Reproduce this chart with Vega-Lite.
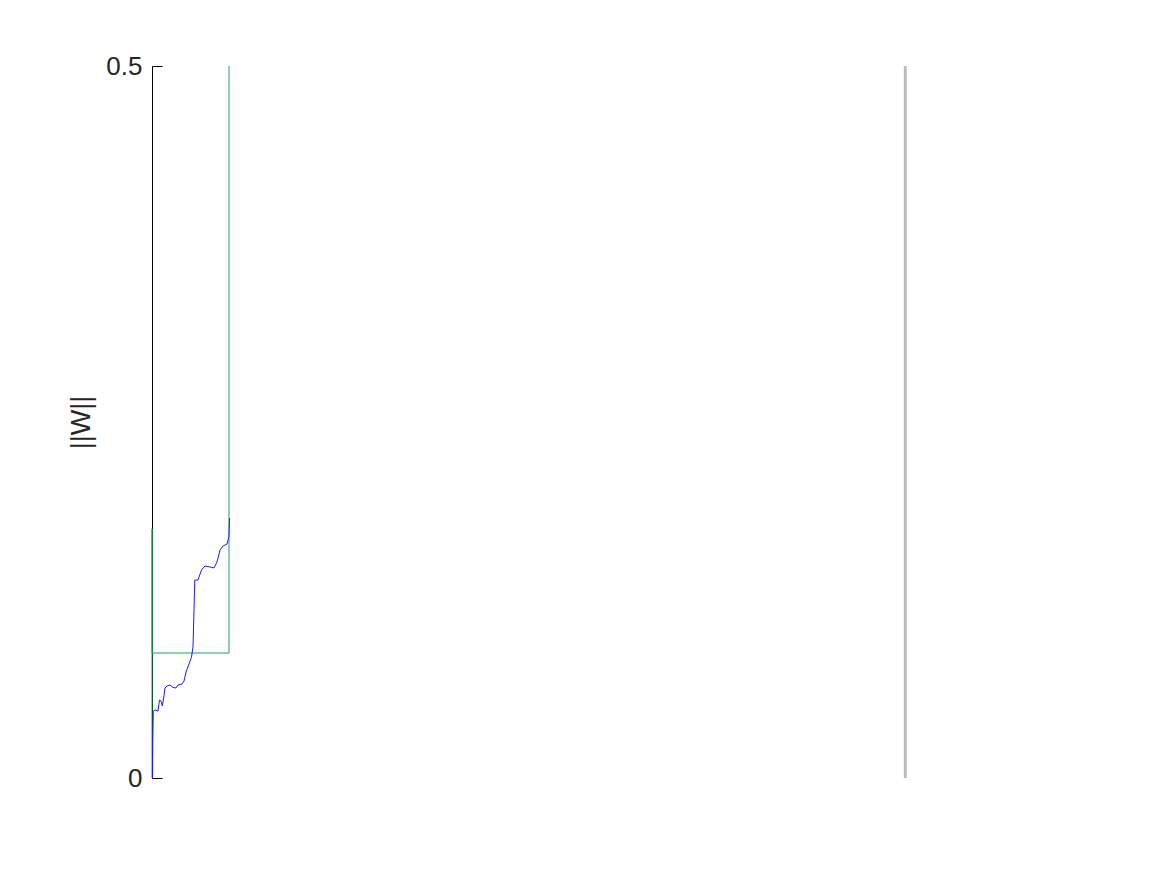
{
  "$schema": "https://vega.github.io/schema/vega-lite/v6.json",
  "width": 904,
  "height": 712,
  "autosize": {"type": "none"},
  "padding": {"left": 152, "top": 66, "right": 111, "bottom": 97},
  "background": "white",
  "config": {"view": {"stroke": null}, "font": "Liberation Sans"},
  "datasets": {
    "green": [
      {"i": 0, "t": 0, "w": 0},
      {"i": 1, "t": 0, "w": 0.175},
      {"i": 2, "t": 0, "w": 0.0878},
      {"i": 3, "t": 0.1022, "w": 0.0878},
      {"i": 4, "t": 0.1022, "w": 0.5}
    ],
    "blue": [
      {"t": 0.00066, "w": 0},
      {"t": 0.00106, "w": 0.0267},
      {"t": 0.00173, "w": 0.0470},
      {"t": 0.00398, "w": 0.0478},
      {"t": 0.00796, "w": 0.0470},
      {"t": 0.00996, "w": 0.0548},
      {"t": 0.01195, "w": 0.0541},
      {"t": 0.01367, "w": 0.0506},
      {"t": 0.01527, "w": 0.0555},
      {"t": 0.01726, "w": 0.0632},
      {"t": 0.01991, "w": 0.0646},
      {"t": 0.02389, "w": 0.0653},
      {"t": 0.02788, "w": 0.0636},
      {"t": 0.03186, "w": 0.0632},
      {"t": 0.03451, "w": 0.0653},
      {"t": 0.03982, "w": 0.0660},
      {"t": 0.04248, "w": 0.0681},
      {"t": 0.04513, "w": 0.0744},
      {"t": 0.04911, "w": 0.0801},
      {"t": 0.05243, "w": 0.0850},
      {"t": 0.05442, "w": 0.0920},
      {"t": 0.05575, "w": 0.1180},
      {"t": 0.05681, "w": 0.1390},
      {"t": 0.06106, "w": 0.1390},
      {"t": 0.06571, "w": 0.1461},
      {"t": 0.07035, "w": 0.1489},
      {"t": 0.07699, "w": 0.1482},
      {"t": 0.08230, "w": 0.1475},
      {"t": 0.08628, "w": 0.1517},
      {"t": 0.09027, "w": 0.1601},
      {"t": 0.09425, "w": 0.1629},
      {"t": 0.09956, "w": 0.1643},
      {"t": 0.10221, "w": 0.1699},
      {"t": 0.10288, "w": 0.1826}
    ],
    "marker": [
      {"t": 1, "w0": 0, "w1": 0.5}
    ]
  },
  "layer": [
    {
      "data": {"name": "marker"},
      "mark": {"type": "rule", "color": "#bdbdbd", "strokeWidth": 3},
      "encoding": {
        "x": {"field": "t", "type": "quantitative", "scale": {"domain": [0, 1.2]}, "axis": null},
        "y": {"field": "w0", "type": "quantitative"},
        "y2": {"field": "w1"}
      }
    },
    {
      "data": {"name": "green"},
      "mark": {"type": "line", "color": "#22a25e", "strokeWidth": 1},
      "encoding": {
        "x": {"field": "t", "type": "quantitative", "scale": {"domain": [0, 1.2]}, "axis": null},
        "y": {"field": "w", "type": "quantitative"},
        "order": {"field": "i", "type": "quantitative"}
      }
    },
    {
      "data": {"name": "blue"},
      "mark": {"type": "line", "color": "#1a1aff", "strokeWidth": 1},
      "encoding": {
        "x": {"field": "t", "type": "quantitative", "scale": {"domain": [0, 1.2]}, "axis": null},
        "y": {
          "field": "w",
          "type": "quantitative",
          "scale": {"domain": [0, 0.5], "nice": false, "zero": false},
          "axis": {
            "title": "||W||",
            "values": [0, 0.5],
            "format": "~g",
            "grid": false,
            "domainColor": "#000000",
            "domainWidth": 1,
            "tickColor": "#000000",
            "tickSize": -10,
            "tickWidth": 1,
            "labelFont": "Liberation Sans",
            "labelFontSize": 26,
            "labelColor": "#262626",
            "labelPadding": 20,
            "titleFont": "Liberation Sans",
            "titleFontSize": 27,
            "titleFontWeight": "normal",
            "titleColor": "#262626",
            "titlePadding": 10
          }
        }
      }
    }
  ]
}
